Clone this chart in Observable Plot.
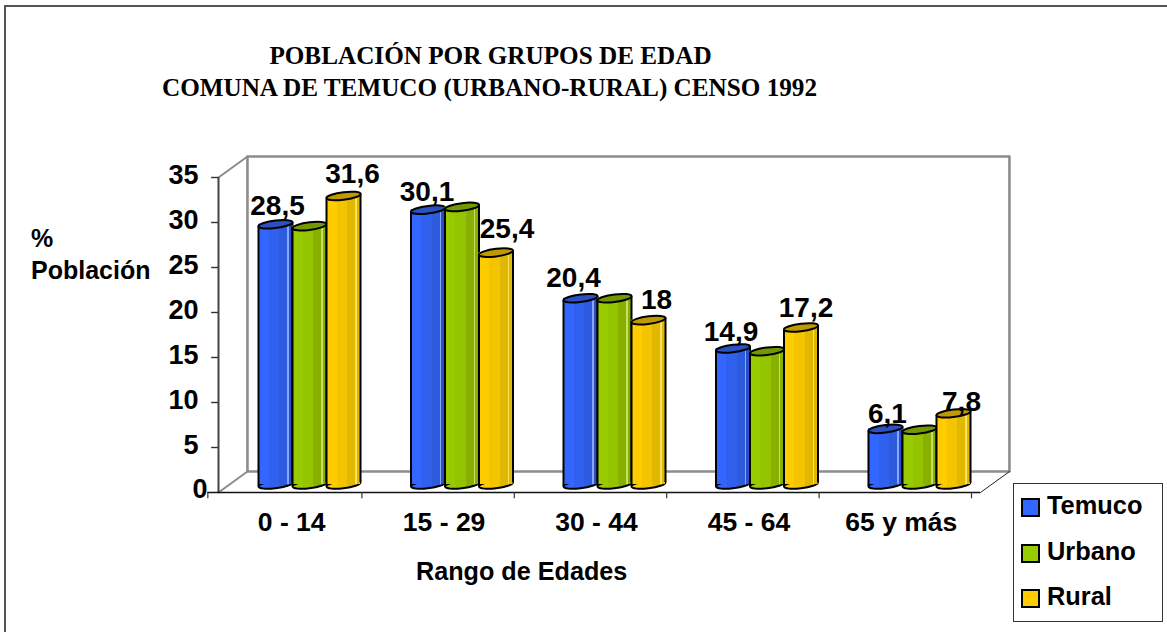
<!DOCTYPE html>
<html lang="es">
<head>
<meta charset="utf-8">
<script src="https://cdn.jsdelivr.net/npm/d3@7"></script>
<script src="https://cdn.jsdelivr.net/npm/@observablehq/plot@0.6"></script>
<style>
html,body{margin:0;padding:0;background:#fff;}
#page{position:relative;width:1167px;height:632px;overflow:hidden;background:#fff;}
#page svg{position:absolute;left:0;top:0;background:transparent;overflow:visible;}
.t{position:absolute;font-family:"Liberation Sans",Arial,sans-serif;font-weight:bold;color:#000;white-space:pre;line-height:1;}
.title{font-family:"Liberation Serif","Times New Roman",serif;font-size:25.2px;left:0;text-align:center;}
</style>
</head>
<body>
<div id="page"></div>
<script>
// ---- data ----
const categories = ["0 - 14", "15 - 29", "30 - 44", "45 - 64", "65 y más"];
const series = ["Temuco", "Urbano", "Rural"];
const temuco = [28.5, 30.1, 20.4, 14.9, 6.1];
const urbano = [28.3, 30.4, 20.4, 14.6, 6.0];
const rural  = [31.6, 25.4, 18, 17.2, 7.8];
const yTicks = [5, 10, 15, 20, 25, 30, 35];

// ---- styling ----
const seriesValues = {Temuco: temuco, Urbano: urbano, Rural: rural};
const look = {
  Temuco: {flat: "#3366FF", cap: "#2B50C0", stops: ["#3366FF", "#3060EE", "#2D5BDD", "#8AA6FF", "#2850C8"]},
  Urbano: {flat: "#99CC00", cap: "#739900", stops: ["#99CC00", "#94C400", "#88B000", "#C8E060", "#88B000"]},
  Rural:  {flat: "#FFCC00", cap: "#BF9900", stops: ["#FFCC00", "#F4C400", "#E0B800", "#FFE060", "#E0B800"]}
};
// label nudges in pixels, per series and category
const labelNudge = {
  Temuco: [[2,-18],[-1,-18],[-7,-20],[-2,-16],[2,-15]],
  Rural:  [[9,-22],[11,-24],[8,-20],[5,-19],[8,-11]]
};
const font = '"Liberation Sans", Arial, sans-serif';
const rows = series.flatMap(s => categories.map((c, i) => ({cat: c, series: s, value: seriesValues[s][i], i})));
const comma = v => String(v).replace(".", ",");

// flattened, slightly skewed ellipse for the cylinder ends
const ellipseSymbol = {
  draw(ctx) {
    const a = 17, b = 3.8, k = 0.5523, s = -0.12;
    const p = (x, y) => [x, y + s * x];
    ctx.moveTo(...p(-a, 0));
    ctx.bezierCurveTo(...p(-a, -b * k), ...p(-a * k, -b), ...p(0, -b));
    ctx.bezierCurveTo(...p(a * k, -b), ...p(a, -b * k), ...p(a, 0));
    ctx.bezierCurveTo(...p(a, b * k), ...p(a * k, b), ...p(0, b));
    ctx.bezierCurveTo(...p(-a * k, b), ...p(-a, b * k), ...p(-a, 0));
    ctx.closePath();
  }
};

// ---- walls, floor and axes ----
const dX = 0.19, dY = 2.33; // depth of the 3D box, in data units
const wall = [[dX, dY], [dX, 35 + dY], [5 + dX, 35 + dY], [5 + dX, dY], [dX, dY]];
const axesPlot = Plot.plot({
  width: 1167, height: 632,
  marginLeft: 218, marginRight: 187, marginTop: 177, marginBottom: 140,
  x: {domain: [0, 5], axis: null},
  y: {domain: [0, 35], axis: null},
  style: {background: "transparent", fontFamily: font},
  marks: [
    Plot.line(wall, {x: d => d[0], y: d => d[1], stroke: "#8C8C8C", strokeWidth: 2.6}),
    Plot.line([[0, 0], [dX, dY]], {x: d => d[0], y: d => d[1], stroke: "#8C8C8C", strokeWidth: 2}),
    Plot.line([[0, 35], [dX, 35 + dY]], {x: d => d[0], y: d => d[1], stroke: "#8C8C8C", strokeWidth: 2}),
    Plot.line([[5, 0], [5 + dX, dY]], {x: d => d[0], y: d => d[1], stroke: "#222", strokeWidth: 1}),
    Plot.ruleX([0], {y1: 0, y2: 35, stroke: "#444", strokeWidth: 2}),
    Plot.ruleY([0], {x1: -0.07, x2: 5, stroke: "#111", strokeWidth: 1.6}),
    Plot.ruleY(yTicks, {x1: -0.045, x2: 0, stroke: "#333", strokeWidth: 1.4}),
    Plot.ruleX([1, 2, 3, 4, 5], {y1: 0, y2: -0.7, dx: -9, stroke: "#333", strokeWidth: 1.2}),
    Plot.ruleX([-0.07], {y1: 0, y2: -0.7, stroke: "#333", strokeWidth: 1.2}),
    Plot.text(yTicks, {x: 0, y: d => d, text: d => String(d), dx: -20, dy: -2, textAnchor: "end",
      fontSize: 27, fontWeight: "bold", fill: "#000"}),
    Plot.text([0], {x: 0, y: d => d, text: d => String(d), dx: -11, dy: -3, textAnchor: "end",
      fontSize: 27, fontWeight: "bold", fill: "#000"}),
    Plot.text(categories, {x: (d, i) => i + 0.5, y: 0, text: d => d, dx: -3, dy: 30,
      fontSize: 26.5, fontWeight: "bold", fill: "#000"})
  ]
});

// ---- cylinders ----
const barMarks = series.flatMap(s => {
  const data = rows.filter(r => r.series === s);
  const common = {fx: "cat", x: "series"};
  return [
    Plot.dot(data, {...common, y: () => 0, r: 1, symbol: ellipseSymbol, fill: `url(#grad${s})`, stroke: "#000", strokeWidth: 2}),
    Plot.barY(data, {...common, y1: 0, y2: "value", fill: `url(#grad${s})`}),
    Plot.ruleX(data, {...common, y1: 0, y2: "value", dx: -17, dy: 2, stroke: "#000", strokeWidth: 2}),
    Plot.ruleX(data, {...common, y1: 0, y2: "value", dx: 17, dy: -2, stroke: "#000", strokeWidth: 2}),
    Plot.dot(data, {...common, y: "value", r: 1, symbol: ellipseSymbol, fill: look[s].cap, stroke: "#000", strokeWidth: 2})
  ];
});
const labelMarks = Object.keys(labelNudge).flatMap(s =>
  rows.filter(r => r.series === s).map(r =>
    Plot.text([r], {fx: "cat", x: "series", y: "value", text: d => comma(d.value),
      dx: labelNudge[s][r.i][0], dy: labelNudge[s][r.i][1],
      fontSize: 28, fontWeight: "bold", fill: "#000"})
  )
);
const barsPlot = Plot.plot({
  width: 1167, height: 632,
  marginLeft: 258, marginRight: 197, marginBottom: 148, marginTop: 164.45,
  x: {domain: series, axis: null, padding: 0, round: false},
  y: {domain: [0, 35], axis: null},
  fx: {domain: categories, axis: null, paddingInner: 0.331, paddingOuter: 0, round: false},
  style: {background: "transparent", fontFamily: font},
  marks: [...barMarks, ...labelMarks]
});
const defs = d3.select(barsPlot).append("defs");
series.forEach(s => {
  const g = defs.append("linearGradient").attr("id", `grad${s}`).attr("x1", 0).attr("x2", 1).attr("y1", 0).attr("y2", 0);
  const st = look[s].stops;
  [[0, st[0]], [.32, st[0]], [.32, st[1]], [.62, st[1]], [.62, st[2]], [.86, st[2]], [.86, st[3]], [.9, st[3]], [.9, st[4]], [1, st[4]]]
    .forEach(([o, c]) => g.append("stop").attr("offset", o).attr("stop-color", c));
});

// ---- page assembly ----
const page = document.getElementById("page");
page.append(axesPlot, barsPlot);
function text(str, cls, css) {
  const el = document.createElement("div");
  el.className = "t " + (cls || "");
  el.textContent = str;
  Object.assign(el.style, css);
  page.append(el);
  return el;
}
function box(css) {
  const el = document.createElement("div");
  el.style.position = "absolute";
  el.style.boxSizing = "border-box";
  Object.assign(el.style, css);
  page.append(el);
}
box({left: "4px", top: "5px", width: "1170px", height: "640px", border: "2px solid #555"});
text("POBLACIÓN POR GRUPOS DE EDAD", "title", {top: "43px", width: "981px"});
text("COMUNA DE TEMUCO (URBANO-RURAL) CENSO 1992", "title", {top: "75px", width: "979px"});
text("%", "", {left: "31px", top: "226px", fontSize: "25px"});
text("Población", "", {left: "31px", top: "258px", fontSize: "25px"});
text("Rango de Edades", "", {left: "416px", top: "559px", fontSize: "25.2px"});
box({left: "1013px", top: "483px", width: "150px", height: "139px", border: "1.5px solid #333"});
series.forEach((s, i) => {
  box({left: "1021px", top: `${498 + i * 45.5}px`, width: "19px", height: "19px", background: look[s].flat, border: "2.4px solid #000"});
  text(s, "", {left: "1047px", top: `${493 + i * 45.5}px`, fontSize: "25.4px"});
});
</script>
</body>
</html>
